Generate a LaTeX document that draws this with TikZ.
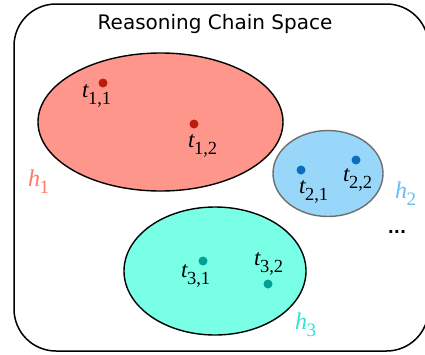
\documentclass[tikz,border=0pt]{standalone}
\usepackage{fontspec}
\setmainfont{Liberation Serif}
\newfontfamily\titlefont{DejaVu Sans}
\definecolor{redfill}{RGB}{255,150,140}
\definecolor{reddot}{RGB}{185,30,10}
\definecolor{bluefill}{RGB}{153,215,250}
\definecolor{blueedge}{RGB}{110,110,110}
\definecolor{bluedot}{RGB}{10,110,190}
\definecolor{cyanfill}{RGB}{120,255,230}
\definecolor{cyandot}{RGB}{0,160,150}
\definecolor{hone}{RGB}{255,120,110}
\definecolor{htwo}{RGB}{100,190,250}
\definecolor{hthree}{RGB}{40,230,210}
\newcommand{\tlab}[2]{{\fontsize{23}{23}\selectfont\itshape #1}\kern-0.5pt\raisebox{-7pt}{\fontsize{18.5}{18.5}\selectfont #2}}
\newcommand{\hlab}[2]{{\fontsize{24}{24}\selectfont\itshape #1}\kern-0.5pt\raisebox{-7pt}{\fontsize{19}{19}\selectfont #2}}
\tikzset{
  pt/.style={circle,inner sep=0pt,minimum size=9pt},
  lab/.style={anchor=base west,inner sep=0pt},
}
\begin{document}
\begin{tikzpicture}[x=1pt,y=-1pt]
\useasboundingbox (0,0) rectangle (425,354);
\draw[line width=1.5pt,rounded corners=42pt] (14,4) rectangle (428.5,351);
\node[anchor=base,inner sep=0pt,font=\titlefont\fontsize{20}{20}\selectfont] (title) at (215,29) {Reasoning Chain Space};
% ellipses
\draw[line width=1.4pt,fill=redfill] (160.5,122) ellipse [x radius=122.5, y radius=69];
\draw[line width=1.4pt,draw=blueedge,fill=bluefill] (328,173.5) ellipse [x radius=55, y radius=43];
\draw[line width=1.4pt,fill=cyanfill] (215,271) ellipse [x radius=91, y radius=64];
% dots
\node[pt,fill=reddot] (t11) at (103,83) {};
\node[pt,fill=reddot] (t12) at (194,124) {};
\node[pt,fill=bluedot] (t21) at (301,170) {};
\node[pt,fill=bluedot] (t22) at (356,160) {};
\node[pt,fill=cyandot] (t31) at (203,261) {};
\node[pt,fill=cyandot] (t32) at (268,284) {};
% labels
\node[lab] (l11) at (82,97) {\tlab{t}{1,1}};
\node[lab] (l12) at (188,147) {\tlab{t}{1,2}};
\node[lab] (l21) at (299,193) {\tlab{t}{2,1}};
\node[lab] (l22) at (343,181) {\tlab{t}{2,2}};
\node[lab] (l31) at (181,277) {\tlab{t}{3,1}};
\node[lab] (l32) at (254,265) {\tlab{t}{3,2}};
\node[lab,text=hone] (h1) at (28,186) {\hlab{h}{1}};
\node[lab,text=htwo] (h2) at (395,198) {\hlab{h}{2}};
\node[lab,text=hthree] (h3) at (295,329) {\hlab{h}{3}};
\node[inner sep=0pt,font=\titlefont\fontsize{16}{16}\selectfont\bfseries] (dots) at (397,232) {...};
\end{tikzpicture}
\end{document}
